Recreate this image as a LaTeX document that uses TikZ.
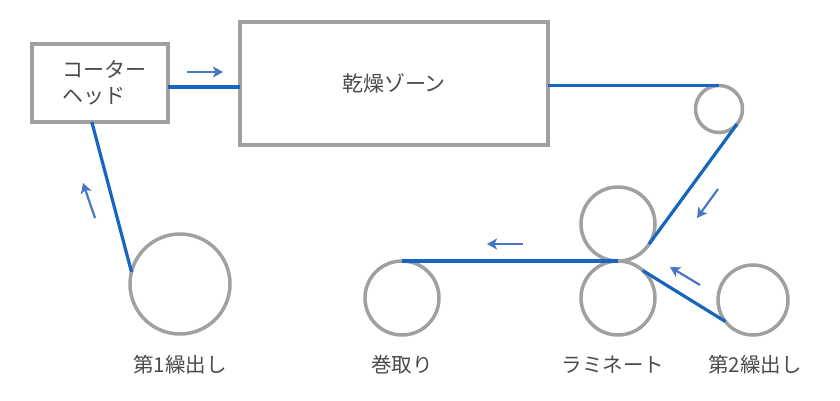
\documentclass[tikz,border=0pt]{standalone}
\usepackage{fontspec}
\setmainfont{Noto Sans CJK JP}
\usetikzlibrary{arrows.meta,calc}
\definecolor{webc}{RGB}{22,101,192}
\definecolor{flowc}{RGB}{70,118,196}
\definecolor{framec}{RGB}{160,160,160}
\definecolor{txtc}{RGB}{75,75,75}
\begin{document}
\begin{tikzpicture}[x=1pt,y=-1pt,
  box/.style={draw=framec,line width=3.5pt,fill=white,inner sep=0pt,outer sep=0pt,text=txtc,font=\fontsize{21}{26}\selectfont,align=left},
  roller/.style={circle,draw=framec,line width=3.5pt,inner sep=0pt,outer sep=0pt,fill=white},
  web/.style={draw=webc,line width=3.2pt},
  flowarrow/.style={draw=flowc,line width=2.2pt,-{Stealth[length=10pt,width=11pt,inset=2.5pt]}},
  lbl/.style={text=txtc,font=\fontsize{20.5}{24}\selectfont,inner sep=0pt}]
\useasboundingbox (0,0) rectangle (840,400);
% boxes
\node[box,minimum width=136pt,minimum height=78pt] (coater) at (100,83) {\hspace*{8pt}コーター\\\hspace*{8pt}ヘッド};
\node[box,minimum width=308pt,minimum height=123pt] (dry) at (394,83.5) {乾燥ゾーン};
% rollers
\node[roller,minimum size=100pt] (un1) at (180,284) {};
\node[roller,minimum size=47pt] (guide) at (719,109) {};
\node[roller,minimum size=74pt] (lamU) at (618,224) {};
\node[roller,minimum size=74pt] (lamL) at (618,298) {};
\node[roller,minimum size=74pt] (wind) at (402,298) {};
\node[roller,minimum size=70pt] (un2) at (753,300) {};
% labels
\node[lbl] (l1) at (180,365) {第1繰出し};
\node[lbl] (l2) at (402,365) {巻取り};
\node[lbl] (l3) at (613,365) {ラミネート};
\node[lbl] (l4) at (755,365) {第2繰出し};
% web path
\coordinate (cb) at ($(coater.south west)!0.44!(coater.south east)$);
\draw[web] (un1.166) -- (cb);
\draw[web] (coater.east |- 0,87) -- (dry.west |- 0,87);
\draw[web] (dry.east |- guide.north) -- (guide.north);
\draw[web] (guide.-40) -- (lamU.-33);
\draw[web] (wind.north) -- (lamU.south);
\draw[web] (lamL.48) -- (un2.218);
% flow arrows
\coordinate (a1s) at (187,72); \coordinate (a1e) at (223,72);
\coordinate (a2s) at (95,218); \coordinate (a2e) at (83,183);
\coordinate (a3s) at (718,189); \coordinate (a3e) at (697,218);
\coordinate (a4s) at (700,285); \coordinate (a4e) at (670,267);
\coordinate (a5s) at (523,244); \coordinate (a5e) at (487,244);
\draw[flowarrow] (a1s) -- (a1e);
\draw[flowarrow] (a2s) -- (a2e);
\draw[flowarrow] (a3s) -- (a3e);
\draw[flowarrow] (a4s) -- (a4e);
\draw[flowarrow] (a5s) -- (a5e);
\end{tikzpicture}
\end{document}
